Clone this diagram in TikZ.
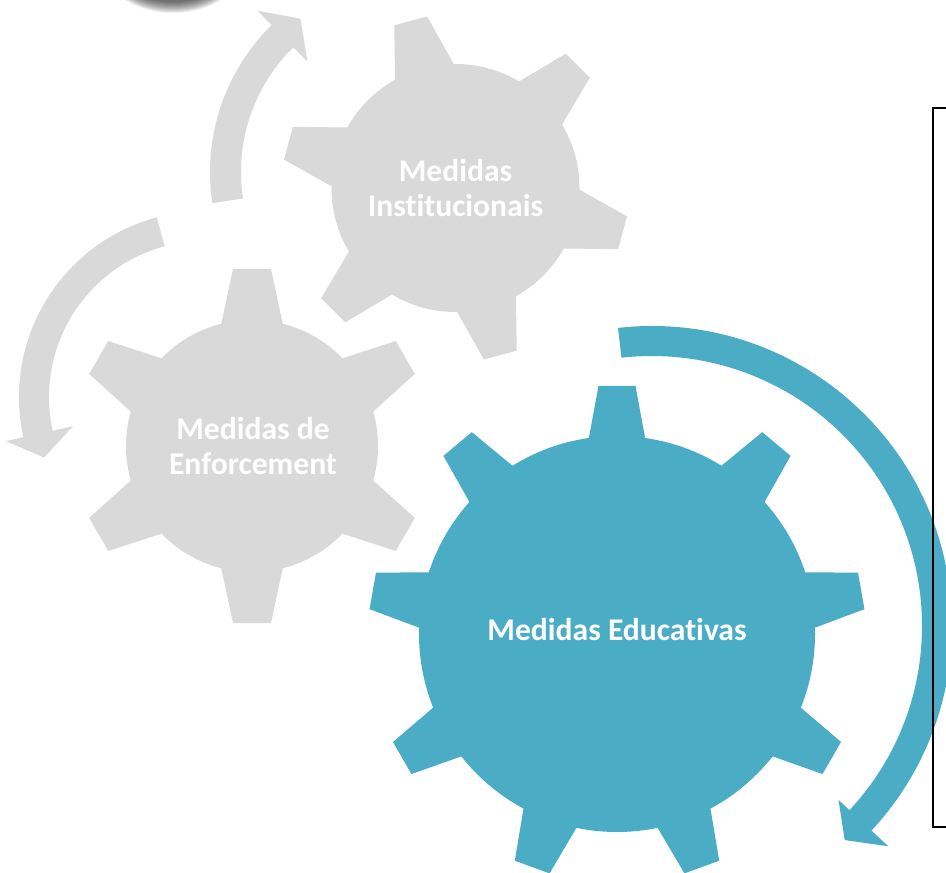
\documentclass[tikz,border=0pt]{standalone}
\usepackage{fontspec}
\setmainfont{Carlito}[Ligatures=NoCommon]
\definecolor{gearblue}{HTML}{4BACC6}
\definecolor{geargray}{HTML}{D9D9D9}
\tikzset{
  lbl/.style={text=white, font=\bfseries\fontsize{23.7}{26.25}\selectfont, align=center, inner sep=0pt},
  framebox/.style={draw=black, line width=1.5pt},
}
% #1,#2 centre; #3 body radius; #4 tip radius; #5 teeth; #6 first angle; #7 base half width; #8 tip half width; #9 colour
\newcommand{\mygear}[9]{%
  \fill[#9] (#1,#2) circle[radius=#3];
  \foreach \k in {1,...,#5} {%
    \pgfmathsetmacro{\ang}{#6+360/#5*(\k-1)}%
    \fill[#9, shift={(#1,#2)}, rotate=\ang] ({#3-12},{-#7-2.5}) -- (#4,-#8) -- (#4,#8) -- ({#3-12},{#7+2.5}) -- cycle;
  }%
}
\begin{document}
\begin{tikzpicture}[x=0.75pt,y=0.75pt]
\useasboundingbox (0,0) rectangle (946,-873);
\clip (0,0) rectangle (946,-873);
% soft shadow at the top
\foreach \i in {0,...,11} \fill[black, opacity=0.065] (173,45) ellipse [x radius={76-\i}, y radius={58-\i}];
% gears
\mygear{455.5}{-188}{124}{173}{6}{105}{30}{17}{geargray}
\mygear{252}{-446}{126}{177}{6}{90}{30}{19}{geargray}
\mygear{617}{-634}{198}{248}{9}{90}{27.5}{18.5}{gearblue}
% circular arrows
\fill[gearblue, shift={(652,-626)}] (96.5:300) arc[start angle=96.5, end angle=-43, radius=300] -- (-43:323) -- (-48:288) -- (-43:255) -- (-43:270) arc[start angle=-43, end angle=96.5, radius=270] -- cycle;
\fill[geargray, shift={(416,-172)}] (188.7:206) arc[start angle=188.7, end angle=134.5, radius=206] -- (134.5:226) -- (127:192) -- (134.5:155) -- (134.5:175) arc[start angle=134.5, end angle=188.7, radius=175] -- cycle;
\fill[geargray, shift={(205,-397)}] (105:186) arc[start angle=105, end angle=192.5, radius=186] -- (192.5:204) -- (200.6:172) -- (192.5:135) -- (192.5:156) arc[start angle=192.5, end angle=105, radius=156] -- cycle;
% labels
\node[lbl] (inst) at (455.5,-188) {Medidas\\Institucionais};
\node[lbl] (enf) at (253,-446) {Medidas de\\Enforcement};
\node[lbl] (edu) at (617,-630) {Medidas Educativas};
% frame on the right
\draw[framebox] (933,-108) rectangle (970,-827);
\end{tikzpicture}
\end{document}
